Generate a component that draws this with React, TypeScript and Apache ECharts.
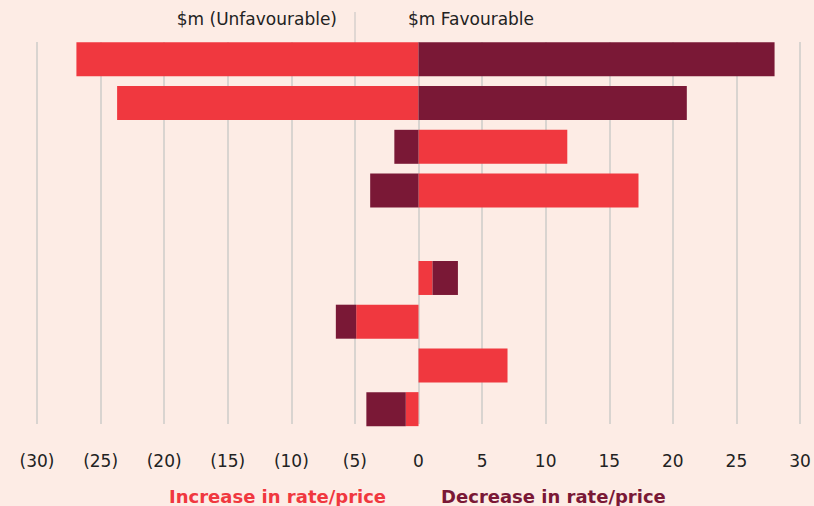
import React, { useEffect, useRef } from "react";
import * as echarts from "echarts";

const categories = ["Row 1", "Row 2", "Row 3", "Row 4", "Row 5", "Row 6", "Row 7", "Row 8", "Row 9"];
const increaseValues: (number | string)[] = [-26.9, -23.7, 11.7, 17.3, "-", 1.1, -4.9, 7.0, -1.0];
const decreaseValues: (number | string)[] = [28.0, 21.1, -1.9, -3.8, "-", 2.0, -1.6, "-", -3.1];

const RED = "#f0383f";
const DARK = "#7a1836";
const BG = "#fdece5";
const FONT = "DejaVu Sans";

function fmt(v: number) {
  if (v < 0) return "(" + Math.abs(v) + ")";
  return String(v);
}

export default function App() {
  const ref = useRef<HTMLDivElement>(null);
  useEffect(() => {
    if (!ref.current) return;
    const chart = echarts.init(ref.current, undefined, { renderer: "svg" });
    chart.setOption({
      animation: false,
      backgroundColor: BG,
      textStyle: { fontFamily: FONT },
      legend: {
        top: 482,
        left: 159,
        icon: "none",
        itemWidth: 0,
        itemGap: 50,
        data: [
          { name: "Increase in rate/price", textStyle: { color: RED } },
          { name: "Decrease in rate/price", textStyle: { color: DARK } },
        ],
        textStyle: { fontFamily: FONT, fontSize: 18, fontWeight: "bold" },
      },
      graphic: [
        {
          type: "text",
          right: 814 - 337,
          top: 10,
          style: { text: "$m (Unfavourable)", font: `17px "${FONT}"`, fill: "#222" },
        },
        {
          type: "text",
          left: 408,
          top: 10,
          style: { text: "$m Favourable", font: `17px "${FONT}"`, fill: "#222" },
        },
        {
          type: "line",
          shape: { x1: 355, y1: 12, x2: 355, y2: 42 },
          style: { stroke: "#d6d1cd", lineWidth: 1.5 },
        },
      ],
      grid: [
        { left: 37, right: 14, top: 42, bottom: 506 - 424 },
        { left: 37, right: 14, top: 37.5, bottom: 506 - 431 },
      ],
      xAxis: [
        {
          gridIndex: 0,
          type: "value",
          min: -30,
          max: 30,
          interval: 5,
          axisLine: { show: false },
          axisTick: { show: false },
          splitLine: { show: true, lineStyle: { color: "#d9d4d0", width: 2 } },
          axisLabel: {
            margin: 28,
            color: "#222",
            fontSize: 17,
            fontFamily: FONT,
            formatter: (v: number) => fmt(v),
          },
        },
        {
          gridIndex: 1,
          type: "value",
          min: -30,
          max: 30,
          interval: 5,
          show: false,
          splitLine: { show: false },
        },
      ],
      yAxis: [
        { gridIndex: 0, type: "category", data: categories, show: false, inverse: true },
        { gridIndex: 1, type: "category", data: categories, show: false, inverse: true },
      ],
      series: [
        {
          name: "Increase in rate/price",
          type: "bar",
          xAxisIndex: 1,
          yAxisIndex: 1,
          stack: "total",
          barWidth: 34,
          itemStyle: { color: RED },
          data: increaseValues,
        },
        {
          name: "Decrease in rate/price",
          type: "bar",
          xAxisIndex: 1,
          yAxisIndex: 1,
          stack: "total",
          barWidth: 34,
          itemStyle: { color: DARK },
          data: decreaseValues,
        },
      ],
    });
    return () => chart.dispose();
  }, []);
  return <div ref={ref} style={{ width: 814, height: 506, position: "absolute", left: 0, top: 0 }} />;
}
